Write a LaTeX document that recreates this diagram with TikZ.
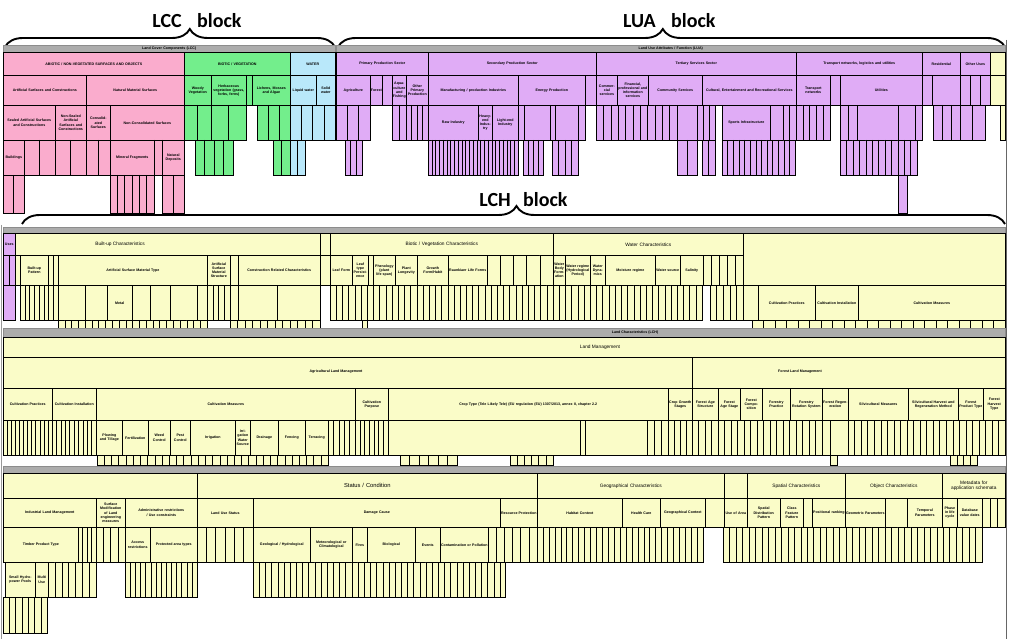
\documentclass[tikz,border=0pt]{standalone}
\usepackage{fontspec}
\setmainfont{Liberation Sans}
\newfontfamily\blockfont{Carlito}
\usepackage{tikz}
\usetikzlibrary{decorations.pathreplacing}
\definecolor{lccpink}{RGB}{250,172,205}
\definecolor{lccgreen}{RGB}{115,238,140}
\definecolor{lccblue}{RGB}{185,232,250}
\definecolor{luapurple}{RGB}{224,172,246}
\definecolor{lchyellow}{RGB}{250,252,200}
\definecolor{hdrgrey}{RGB}{172,172,172}

% cell: name, x1, y1, x2, y2, style, text
\newcommand{\cell}[7]{%
  \pgfmathsetmacro{\cw}{#4-#2}%
  \pgfmathsetmacro{\ch}{#5-#3}%
  \pgfmathsetmacro{\tw}{max(#4-#2-1,1)}%
  \node[cellbox,#6,anchor=north west,minimum width=\cw pt,minimum height=\ch pt,text width=\tw pt] (#1) at (#2,#3) {#7};}
% leaves: x1, y1, x2, y2, columns, style
\newcommand{\leaves}[6]{%
  \draw[#6] (#1,#2) rectangle (#3,#4);
  \pgfmathsetmacro{\lfw}{(#3-#1)/#5}%
  \pgfmathtruncatemacro{\lfn}{#5-1}%
  \foreach \k in {1,...,\lfn} {\draw[#6] ({#1+\k*\lfw},#2) -- ({#1+\k*\lfw},#4);}}
\newcommand{\nohyph}{\hyphenpenalty=10000\relax}

\begin{document}
\begin{tikzpicture}[
  x=1pt, y=-1pt,
  cellbox/.style={draw=black, line width=0.6pt, inner sep=0.5pt, align=center, font=\fontsize{3.6}{4.2}\selectfont\bfseries\nohyph},
  pk/.style={fill=lccpink}, gn/.style={fill=lccgreen}, bl/.style={fill=lccblue},
  pu/.style={fill=luapurple}, ye/.style={fill=lchyellow},
  hdr/.style={fill=hdrgrey, draw=black!45, line width=0.4pt},
  lblmid/.style={font=\fontsize{4.8}{5.6}\selectfont\nohyph},
  lblbig/.style={font=\fontsize{5.8}{6.8}\selectfont\nohyph},
  leafpk/.style={draw=black, line width=0.35pt, fill=lccpink},
  leafgn/.style={draw=black, line width=0.35pt, fill=lccgreen},
  leafbl/.style={draw=black, line width=0.35pt, fill=lccblue},
  leafpu/.style={draw=black, line width=0.35pt, fill=luapurple},
  leafye/.style={draw=black, line width=0.35pt, fill=lchyellow},
  blocklbl/.style={font=\blockfont\bfseries\fontsize{20}{22}\selectfont, inner sep=0pt},
  blockbrace/.style={decorate, decoration={brace, amplitude=18pt, aspect=#1}, line width=1.9pt}
]
\useasboundingbox[fill=white] (0,0) rectangle (1009,639);

% block titles
\draw[blockbrace=0.56] (5,47) -- (335,47);
\node[blocklbl, anchor=base east] (lcct) at (182,28) {LCC};
\node[blocklbl, anchor=base west] (lccb) at (197,28) {block};
\draw[blockbrace=0.487] (338,47) -- (1005,47);
\node[blocklbl, anchor=base east] (luat) at (656,28) {LUA};
\node[blocklbl, anchor=base west] (luab) at (671,28) {block};
\draw[blockbrace=0.503] (22,224) -- (1005,224);
\node[blocklbl, anchor=base east] (lcht) at (511,207) {LCH};
\node[blocklbl, anchor=base west] (lchb) at (523,207) {block};

% LCC
\cell{lcchd}{3}{45}{335}{52}{hdr}{Land Cover Components (LCC)}
\cell{abio}{3}{52}{184}{75}{pk}{ABIOTIC / NON-VEGETATED SURFACES AND OBJECTS}
\cell{bio}{184}{52}{290}{75}{gn}{BIOTIC / VEGETATION}
\cell{wat}{290}{52}{335}{75}{bl}{WATER}
\cell{artsurf}{3}{75}{86}{105}{pk}{Artificial Surfaces and Constructions}
\cell{natsurf}{86}{75}{184}{105}{pk}{Natural Material Surfaces}
\cell{woody}{184}{75}{211}{105}{gn}{Woody Vegetation}
\cell{herb}{211}{75}{246}{105}{gn}{Herbaceous vegetation (grass, forbs, ferns)}
\cell{herbx}{246}{75}{252}{105}{gn}{}
\cell{lichen}{252}{75}{290}{105}{gn}{Lichens, Mosses and Algae}
\cell{liqw}{290}{75}{316}{105}{bl}{Liquid water}
\cell{solw}{316}{75}{335}{105}{bl}{Solid water}
\cell{sealed}{3}{105}{55}{140}{pk}{Sealed Artificial Surfaces and Constructions}
\cell{nonsealed}{55}{105}{86}{140}{pk}{Non-Sealed Artificial Surfaces and Constructions}
\cell{consol}{86}{105}{110}{140}{pk}{Consolid-\\ated Surfaces}
\cell{noncons}{110}{105}{184}{140}{pk}{Non-Consolidated Surfaces}
\leaves{184}{105}{211}{140}{2}{leafgn}
\leaves{211}{105}{246}{140}{2}{leafgn}
\leaves{257}{105}{290}{140}{3}{leafgn}
\leaves{290}{105}{335}{140}{4}{leafbl}
\cell{buildings}{3}{140}{24}{175}{pk}{Buildings}
\leaves{24}{140}{55}{175}{2}{leafpk}
\leaves{55}{140}{86}{175}{2}{leafpk}
\leaves{86}{140}{110}{175}{2}{leafpk}
\cell{minfrag}{110}{140}{154}{175}{pk}{Mineral Fragments}
\leaves{154}{140}{162}{175}{1}{leafpk}
\cell{natdep}{162}{140}{184}{175}{pk}{Natural Deposits}
\leaves{195}{140}{233}{175}{4}{leafgn}
\leaves{273}{140}{290}{175}{2}{leafgn}
\leaves{290}{140}{305}{175}{2}{leafbl}
\leaves{3}{175}{24}{213}{2}{leafpk}
\leaves{110}{175}{154}{213}{6}{leafpk}
\leaves{162}{175}{184}{213}{2}{leafpk}

% LUA
\cell{luahd}{336}{45}{1005}{52}{hdr}{Land Use Attributes / Function (LUA)}
\cell{prim}{336}{52}{428}{75}{pu}{Primary Production Sector}
\cell{sec}{428}{52}{596}{75}{pu}{Secondary Production Sector}
\cell{ter}{596}{52}{796}{75}{pu}{Tertiary Services Sector}
\cell{trans}{796}{52}{922}{75}{pu}{Transport networks, logistics and utilities}
\cell{resid}{922}{52}{960}{75}{pu}{Residential}
\cell{other}{960}{52}{990}{75}{pu}{Other Uses}
\cell{lchtop}{990}{52}{1005}{75}{ye}{}
\cell{agri}{336}{75}{370}{105}{pu}{Agriculture}
\cell{fore}{370}{75}{382}{105}{pu}{Forestry}
\cell{mine}{382}{75}{392}{105}{pu}{}
\cell{aqua}{392}{75}{406}{105}{pu}{Aqua-\\culture and Fishing}
\cell{oprim}{406}{75}{428}{105}{pu}{Other Primary Production}
\cell{manu}{428}{75}{518}{105}{pu}{Manufacturing / production Industries}
\cell{energy}{518}{75}{585}{105}{pu}{Energy Production}
\cell{osec}{585}{75}{596}{105}{pu}{}
\cell{comm}{596}{75}{617}{105}{pu}{Commer-\\cial services}
\cell{fin}{617}{75}{648}{105}{pu}{Financial, professional and information services}
\cell{commun}{648}{75}{702}{105}{pu}{Community Services}
\cell{cult}{702}{75}{796}{105}{pu}{Cultural, Entertainment and Recreational Services}
\cell{tnet}{796}{75}{830}{105}{pu}{Transport networks}
\cell{logi}{830}{75}{840}{105}{pu}{}
\cell{util}{840}{75}{922}{105}{pu}{Utilities}
\cell{resa}{922}{75}{932}{105}{pu}{}
\cell{resb}{932}{75}{960}{105}{pu}{}
\leaves{960}{75}{990}{105}{3}{leafpu}
\cell{lchtopb}{990}{75}{1005}{105}{ye}{}
\leaves{336}{105}{370}{140}{3}{leafpu}
\leaves{392}{105}{406}{140}{2}{leafpu}
\leaves{406}{105}{428}{140}{4}{leafpu}
\cell{rawind}{428}{105}{478}{140}{pu}{Raw Industry}
\cell{heavy}{478}{105}{492}{140}{pu}{Heavy-end Indus-\\try}
\cell{light}{492}{105}{518}{140}{pu}{Light-end Industry}
\leaves{518}{105}{524}{140}{1}{leafpu}
\cell{fossil}{524}{105}{550}{140}{pu}{}
\leaves{550}{105}{555}{140}{1}{leafpu}
\cell{renew}{555}{105}{578}{140}{pu}{}
\leaves{578}{105}{585}{140}{1}{leafpu}
\leaves{596}{105}{677}{140}{11}{leafpu}
\cell{pubserv}{677}{105}{697}{140}{pu}{}
\leaves{697}{105}{715}{140}{3}{leafpu}
\cell{sport}{722}{105}{770}{140}{pu}{Sports Infrastructure}
\cell{openair}{770}{105}{783}{140}{pu}{}
\leaves{783}{105}{796}{140}{2}{leafpu}
\leaves{796}{105}{830}{140}{5}{leafpu}
\leaves{840}{105}{857}{140}{2}{leafpu}
\cell{energyinf}{857}{105}{898}{140}{pu}{}
\cell{wasteinf}{898}{105}{915}{140}{pu}{}
\leaves{915}{105}{922}{140}{1}{leafpu}
\leaves{933}{105}{960}{140}{3}{leafpu}
\leaves{960}{105}{985}{140}{2}{leafpu}
\leaves{1000}{105}{1005}{140}{1}{leafye}
\leaves{345}{140}{362}{175}{3}{leafpu}
\leaves{428}{140}{518}{175}{24}{leafpu}
\leaves{523}{140}{543}{175}{4}{leafpu}
\leaves{552}{140}{578}{175}{4}{leafpu}
\leaves{677}{140}{697}{175}{2}{leafpu}
\leaves{702}{140}{715}{175}{2}{leafpu}
\leaves{722}{140}{795}{175}{13}{leafpu}
\leaves{840}{140}{917}{175}{12}{leafpu}
\leaves{898}{175}{907}{213}{1}{leafpu}

% LCH, first table
\cell{lchhd}{3}{227}{1005}{233}{hdr}{}
\cell{uses}{3}{233}{15}{255}{pu}{Uses}
\cell{builtup}{15}{233}{320}{255}{ye}{}
\node[lblmid] (builtuplbl) at (120,244) {Built-up Characteristics};
\cell{bupx}{320}{233}{330}{255}{ye}{}
\cell{biotic}{330}{233}{553}{255}{ye,lblmid}{Biotic / Vegetation Characteristics}
\cell{waterch}{553}{233}{743}{255}{ye,lblmid}{Water Characteristics}
\cell{lchrow}{743}{233}{1005}{285}{ye}{}
\leaves{3}{255}{15}{285}{2}{leafpu}
\leaves{15}{255}{20}{285}{1}{leafye}
\cell{bupat}{20}{255}{48}{285}{ye}{Built-up Pattern}
\leaves{48}{255}{58}{285}{2}{leafye}
\cell{artmat}{58}{255}{207}{285}{ye}{Artificial Surface Material Type}
\cell{artstr}{207}{255}{230}{285}{ye}{Artificial Surface Material Structure}
\cell{roof}{230}{255}{238}{285}{ye}{}
\cell{constr}{238}{255}{320}{285}{ye}{Construction Related Characteristics}
\cell{bupy}{320}{255}{330}{285}{ye}{}
\cell{leafform}{330}{255}{352}{285}{ye}{Leaf Form}
\cell{leafpers}{352}{255}{368}{285}{ye}{Leaf type Persist-\\ence}
\cell{leafx}{368}{255}{373}{285}{ye}{}
\cell{phen}{373}{255}{395}{285}{ye}{Phenology (plant life span)}
\cell{plong}{395}{255}{417}{285}{ye}{Plant Longevity}
\cell{growth}{417}{255}{448}{285}{ye}{Growth Form/Habit}
\cell{raunk}{448}{255}{487}{285}{ye}{Raunkiaer Life Forms}
\leaves{487}{255}{553}{285}{5}{leafye}
\cell{wbody}{553}{255}{565}{285}{ye}{Water Body Form-\\ation}
\cell{wregime}{565}{255}{590}{285}{ye}{Water regime (Hydrological Period)}
\cell{wdyn}{590}{255}{605}{285}{ye}{Water Dyna-\\mics}
\cell{moist}{605}{255}{655}{285}{ye}{Moisture regime}
\cell{wsource}{655}{255}{680}{285}{ye}{Water source}
\cell{salin}{680}{255}{703}{285}{ye}{Salinity}
\leaves{703}{255}{743}{285}{5}{leafye}
\cell{usesb}{3}{285}{15}{320}{pu}{}
\leaves{20}{285}{58}{320}{8}{leafye}
\cell{minc}{58}{285}{85}{320}{ye}{}
\cell{matb}{85}{285}{107}{320}{ye}{}
\cell{metal}{107}{285}{132}{320}{ye}{Metal}
\cell{matd}{132}{285}{150}{320}{ye}{}
\cell{mate}{150}{285}{170}{320}{ye}{}
\cell{matf}{170}{285}{197}{320}{ye}{}
\cell{matg}{197}{285}{207}{320}{ye}{}
\leaves{207}{285}{230}{320}{4}{leafye}
\cell{cona}{230}{285}{238}{320}{ye}{}
\cell{conb}{238}{285}{277}{320}{ye}{}
\cell{conc}{277}{285}{320}{320}{ye}{}
\leaves{330}{285}{553}{320}{36}{leafye}
\leaves{553}{285}{702}{320}{24}{leafye}
\leaves{710}{285}{743}{320}{5}{leafye}
\cell{degr}{743}{285}{758}{320}{ye}{}
\cell{cprac}{758}{285}{815}{320}{ye}{Cultivation Practices}
\cell{cinst}{815}{285}{858}{320}{ye}{Cultivation Installation}
\cell{cmeas}{858}{285}{1005}{320}{ye}{Cultivation Measures}
\leaves{58}{320}{207}{328}{22}{leafye}
\leaves{230}{320}{320}{328}{12}{leafye}
\leaves{362}{320}{367}{333}{1}{leafye}
\leaves{752}{320}{1005}{328}{22}{leafye}

% LCH, second table
\cell{lchbar}{3}{328}{1005}{337}{hdr}{}
\node[cellbox, draw=none] (lchlbl) at (635,332.5) {Land Characteristics (LCH)};
\cell{landman}{3}{337}{1005}{357}{ye}{}
\node[lblmid] (landmanlbl) at (600,347) {Land Management};
\cell{agrman}{3}{357}{692}{388}{ye}{}
\node[cellbox, draw=none] (agrmanlbl) at (336,372) {Agricultural Land Management};
\cell{forman}{692}{357}{1005}{388}{ye}{}
\node[cellbox, draw=none] (formanlbl) at (800,372) {Forest Land Management};
\cell{cultprac}{3}{388}{52}{420}{ye}{Cultivation Practices}
\cell{cultinst}{52}{388}{96}{420}{ye}{Cultivation Installation}
\cell{cultmeas}{96}{388}{355}{420}{ye}{Cultivation Measures}
\cell{cultpurp}{355}{388}{388}{420}{ye}{Cultivation Purpose}
\cell{croptype}{388}{388}{668}{420}{ye}{Crop Type (Tele Likely Tele) (EU regulation (EU) 1307/2013, annex II, chapter 2.2}
\cell{cropgrow}{668}{388}{692}{420}{ye}{Crop Growth Stages}
\cell{fagestr}{692}{388}{718}{420}{ye}{Forest Age Structure}
\cell{fagestg}{718}{388}{740}{420}{ye}{Forest Age Stage}
\cell{fcomp}{740}{388}{762}{420}{ye}{Forest Compo-\\sition}
\cell{fprac}{762}{388}{790}{420}{ye}{Forestry Practice}
\cell{frot}{790}{388}{822}{420}{ye}{Forestry Rotation System}
\cell{fregen}{822}{388}{848}{420}{ye}{Forest Regen-\\eration}
\cell{silvmeas}{848}{388}{908}{420}{ye}{Silvicultural Measures}
\cell{silvharv}{908}{388}{958}{420}{ye}{Silvicultural Harvest and Regeneration Method}
\cell{fprod}{958}{388}{983}{420}{ye}{Forest Product Type}
\cell{fharv}{983}{388}{1005}{420}{ye}{Forest Harvest Type}
\leaves{3}{420}{52}{455}{12}{leafye}
\leaves{52}{420}{96}{455}{10}{leafye}
\cell{plow}{96}{420}{122}{455}{ye}{Plowing and Tillage}
\cell{fert}{122}{420}{148}{455}{ye}{Fertilization}
\cell{weed}{148}{420}{170}{455}{ye}{Weed Control}
\cell{pest}{170}{420}{190}{455}{ye}{Pest Control}
\cell{irrig}{190}{420}{235}{455}{ye}{Irrigation}
\cell{irrws}{235}{420}{250}{455}{ye}{Irri-\\gation Water Source}
\cell{drain}{250}{420}{278}{455}{ye}{Drainage}
\cell{fenc}{278}{420}{305}{455}{ye}{Fencing}
\cell{terr}{305}{420}{328}{455}{ye}{Terracing}
\leaves{328}{420}{355}{455}{5}{leafye}
\leaves{355}{420}{388}{455}{7}{leafye}
\cell{cropa}{388}{420}{580}{455}{ye}{}
\leaves{580}{420}{585}{455}{1}{leafye}
\cell{cropb}{585}{420}{647}{455}{ye}{}
\leaves{647}{420}{668}{455}{3}{leafye}
\leaves{668}{420}{692}{455}{4}{leafye}
\leaves{692}{420}{822}{455}{20}{leafye}
\leaves{822}{420}{830}{455}{1}{leafye}
\cell{natregen}{830}{420}{848}{455}{ye}{}
\leaves{848}{420}{1005}{455}{24}{leafye}
\leaves{97}{455}{328}{465}{32}{leafye}
\leaves{400}{455}{457}{465}{6}{leafye}
\leaves{510}{455}{553}{465}{6}{leafye}
\leaves{830}{455}{837}{465}{1}{leafye}
\leaves{950}{455}{977}{465}{4}{leafye}

% LCH, third table
\cell{lchbarb}{3}{466}{1005}{473}{hdr}{}
\cell{indtop}{3}{473}{197}{498}{ye}{}
\cell{status}{197}{473}{537}{498}{ye,lblbig}{Status / Condition}
\cell{geo}{537}{473}{724}{498}{ye,lblmid}{Geographical Characteristics}
\cell{geox}{724}{473}{747}{498}{ye}{}
\cell{spat}{747}{473}{845}{498}{ye,lblmid}{Spatial Characteristics}
\cell{objc}{845}{473}{942}{498}{ye,lblmid}{Object Characteristics}
\cell{meta}{942}{473}{1005}{498}{ye,lblmid}{Metadata for application schemata}
\cell{indlm}{3}{498}{96}{527}{ye}{Industrial Land Management}
\cell{surfmod}{96}{498}{125}{527}{ye}{Surface Modification of Land engineering measures}
\cell{admin}{125}{498}{197}{527}{ye}{Administrative restrictions / Use constraints}
\cell{lustat}{197}{498}{253}{527}{ye}{Land Use Status}
\cell{damage}{253}{498}{500}{527}{ye}{Damage Cause}
\cell{resprot}{500}{498}{537}{527}{ye}{Resource Protection}
\cell{habitat}{537}{498}{622}{527}{ye}{Habitat Context}
\cell{health}{622}{498}{660}{527}{ye}{Health Care}
\cell{geoctx}{660}{498}{705}{527}{ye}{Geographical Context}
\cell{greenrel}{705}{498}{724}{527}{ye}{}
\cell{usearea}{724}{498}{747}{527}{ye}{Use of Area}
\cell{spdist}{747}{498}{780}{527}{ye}{Spatial Distribution Pattern}
\cell{classf}{780}{498}{803}{527}{ye}{Class Feature Pattern}
\cell{spx}{803}{498}{812}{527}{ye}{}
\cell{posrank}{812}{498}{845}{527}{ye}{Positional ranking}
\cell{geompar}{845}{498}{885}{527}{ye}{Geometric Parameters}
\cell{srctree}{885}{498}{907}{527}{ye}{}
\cell{temppar}{907}{498}{942}{527}{ye}{Temporal Parameters}
\cell{phase}{942}{498}{957}{527}{ye}{Phase in life cycle}
\cell{dbval}{957}{498}{982}{527}{ye}{Database value dates}
\leaves{982}{498}{1005}{527}{3}{leafye}
\cell{timber}{3}{527}{78}{562}{ye}{Timber Product Type}
\leaves{78}{527}{96}{562}{4}{leafye}
\leaves{96}{527}{125}{562}{4}{leafye}
\cell{access}{125}{527}{150}{562}{ye}{Access restrictions}
\cell{protarea}{150}{527}{197}{562}{ye}{Protected area types}
\leaves{197}{527}{253}{562}{6}{leafye}
\cell{geohyd}{253}{527}{310}{562}{ye}{Geological / Hydrological}
\cell{meteo}{310}{527}{352}{562}{ye}{Meteorological or Climatological}
\cell{fires}{352}{527}{367}{562}{ye}{Fires}
\cell{biol}{367}{527}{415}{562}{ye}{Biological}
\cell{events}{415}{527}{440}{562}{ye}{Events}
\cell{contam}{440}{527}{488}{562}{ye}{Contamination or Pollution}
\leaves{488}{527}{537}{562}{6}{leafye}
\leaves{537}{527}{703}{562}{28}{leafye}
\leaves{723}{527}{982}{562}{40}{leafye}
\cell{hydpool}{5}{562}{35}{597}{ye}{Small Hydro-\\power Pools}
\cell{multi}{35}{562}{48}{597}{ye}{Multi Use}
\leaves{48}{562}{96}{597}{7}{leafye}
\leaves{125}{562}{197}{597}{14}{leafye}
\leaves{253}{562}{500}{597}{40}{leafye}
\leaves{500}{562}{505}{597}{1}{leafye}
\leaves{3}{597}{47}{633}{7}{leafye}

\draw[black!60, line width=1pt] (1006,40) -- (1006,639);
\draw[black!40, line width=0.6pt] (1.5,225) -- (1.5,639);
\end{tikzpicture}
\end{document}
